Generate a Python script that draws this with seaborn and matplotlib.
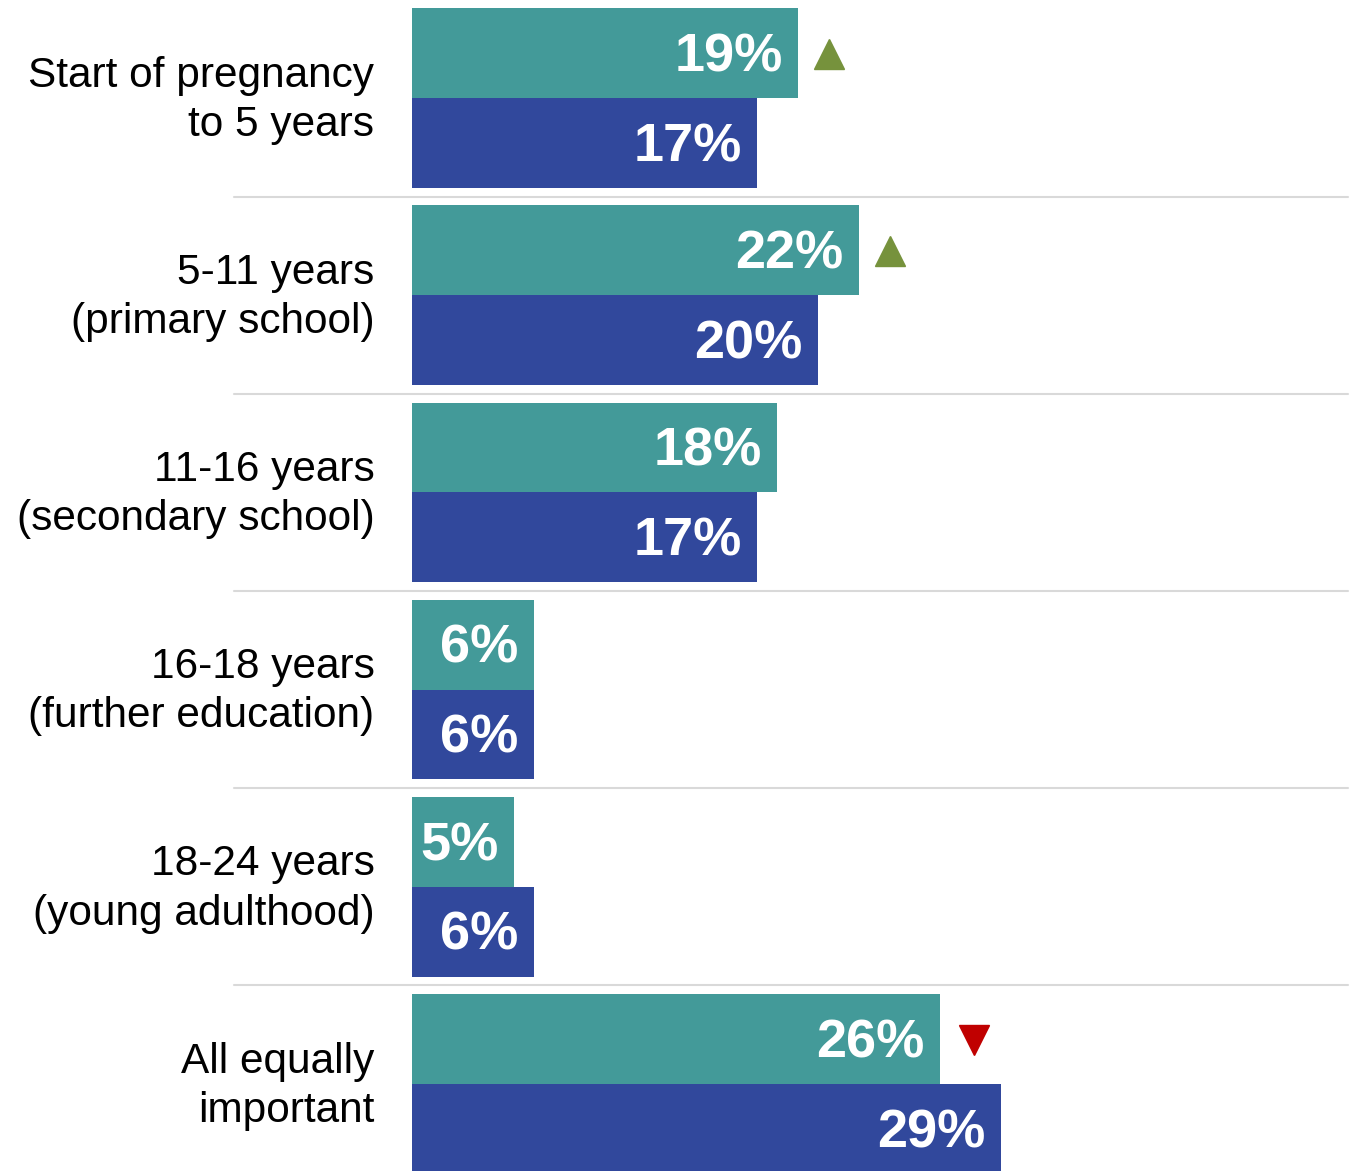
import pandas as pd
import seaborn as sns
import matplotlib.pyplot as plt
import matplotlib.transforms as mtransforms

# data
stages = ["Start of pregnancy\nto 5 years",
          "5-11 years\n(primary school)",
          "11-16 years\n(secondary school)",
          "16-18 years\n(further education)",
          "18-24 years\n(young adulthood)",
          "All equally\nimportant"]
latest = [19, 22, 18, 6, 5, 26]
previous = [17, 20, 17, 6, 6, 29]
change = ["up", "up", None, None, None, "down"]

waves = ["Latest", "Previous"]
colours = ["#439A99", "#31489C"]

df = pd.DataFrame({
    "Stage": stages * 2,
    "Percent": latest + previous,
    "Wave": [waves[0]] * len(stages) + [waves[1]] * len(stages),
})

sns.set_theme(style="white")
plt.rcParams["font.family"] = ["Liberation Sans", "DejaVu Sans"]

fig = plt.figure(figsize=(13.51, 11.71), dpi=100)
ax = fig.add_axes([412 / 1351, 0, 939 / 1351, 1])

sns.barplot(data=df, y="Stage", x="Percent", hue="Wave", hue_order=waves,
            palette=colours, orient="h", width=0.91, saturation=1,
            linewidth=0, legend=False, ax=ax)

ax.set_xlim(0, 939 / 20.3)
ax.set_ylim(5.441, -0.497)
ax.set_xlabel("")
ax.set_ylabel("")
ax.set_xticks([])
ax.tick_params(axis="y", length=0, pad=27)
# nudge category labels up a little, like the original
shift = mtransforms.ScaledTranslation(0, 7 / 100, fig.dpi_scale_trans)
for lab in ax.get_yticklabels():
    lab.set_fontsize(30.5)
    lab.set_color("black")
    lab.set_linespacing(1.3)
    lab.set_horizontalalignment("right")
    lab.set_transform(lab.get_transform() + shift)
sns.despine(ax=ax, left=True, bottom=True)

# separators between groups
trans = mtransforms.blended_transform_factory(ax.transAxes, ax.transData)
for k in range(len(stages) - 1):
    ax.plot([-0.19, 0.997], [k + 0.5, k + 0.5], transform=trans,
            color="#D9D9D9", lw=1.5, clip_on=False, zorder=0)

# value labels inside bar ends
for cont in ax.containers:
    for bar in cont:
        w = bar.get_width()
        yc = bar.get_y() + bar.get_height() / 2
        ax.annotate(f"{w:.0f}%", (w, yc), xytext=(-11, -3),
                    textcoords="offset points", ha="right", va="center",
                    color="white", fontsize=39, fontweight="bold")

# change markers next to the latest bars
for bar, c in zip(ax.containers[0], change):
    if c is None:
        continue
    w = bar.get_width()
    yc = bar.get_y() + bar.get_height() / 2
    off = mtransforms.offset_copy(ax.transData, fig=fig, x=31 if c == "up" else 34,
                                  y=-1, units="dots")
    ax.plot([w], [yc], transform=off, marker="^" if c == "up" else "v",
            markersize=21, color="#76923C" if c == "up" else "#C00000",
            clip_on=False, zorder=5)

plt.savefig("out.png", dpi=100)
